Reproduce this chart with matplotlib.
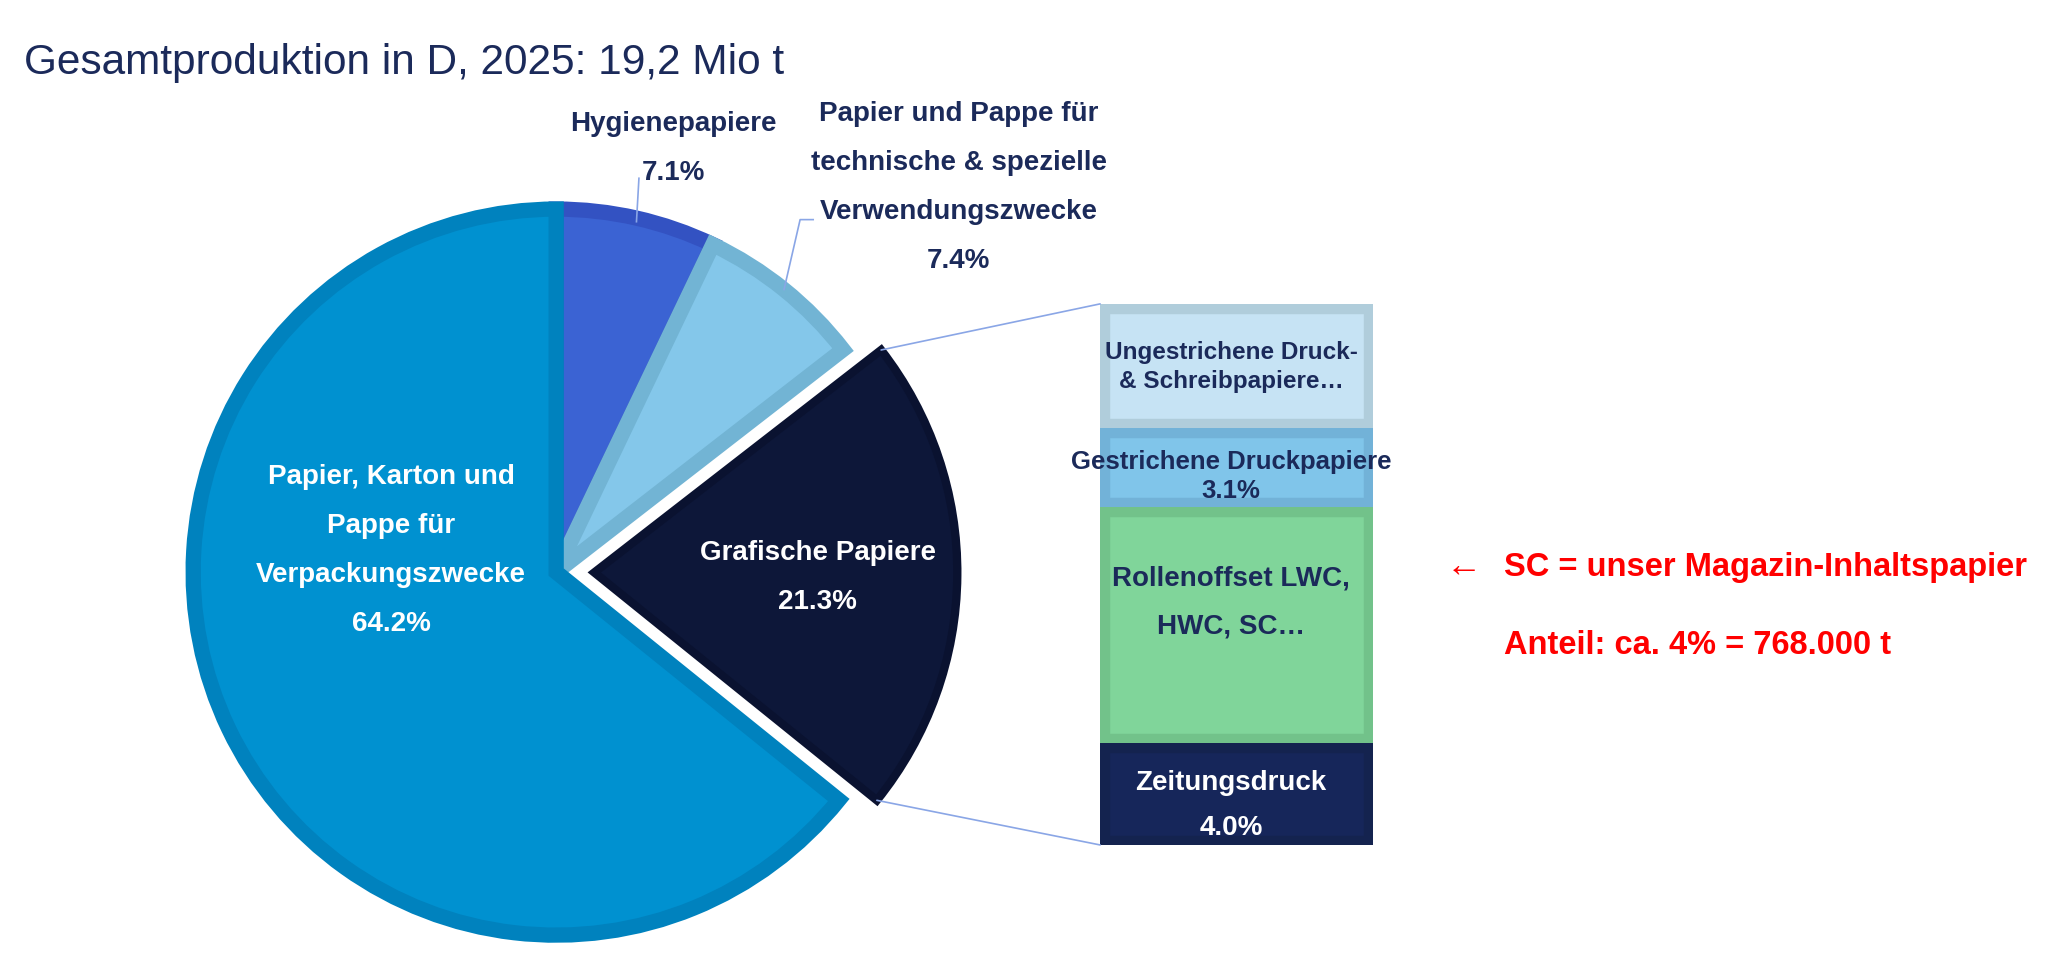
import numpy as np
import matplotlib.pyplot as plt
from matplotlib.patches import ConnectionPatch

plt.rcParams['font.family'] = ['Liberation Sans', 'DejaVu Sans']

NAVY = "#1B2A5A"
LINE = "#8AA6E6"

# pie data (clockwise from top)
pie_labels = ["Hygienepapiere",
              "Papier und Pappe für\ntechnische & spezielle\nVerwendungszwecke",
              "Grafische Papiere",
              "Papier, Karton und\nPappe für\nVerpackungszwecke"]
pie_values = [7.1, 7.4, 21.3, 64.2]
pie_colors = ["#3B63D3", "#84C7EA", "#0D1739", "#0091D0"]
pie_edges = ["#3352C2", "#72B4D4", "#0A1230", "#0082BE"]

# bar data (bottom to top), split of "Grafische Papiere"
bar_labels = ["Zeitungsdruck",
              "Rollenoffset LWC,\nHWC, SC…",
              "Gestrichene Druckpapiere",
              "Ungestrichene Druck-\n& Schreibpapiere…"]
bar_values = [4.0, 9.3, 3.1, 4.9]
bar_pct_shown = [True, False, True, False]
bar_colors = ["#16265A", "#80D59A", "#80C5EA", "#C6E3F4"]
bar_edges = ["#14234F", "#72C28A", "#72B2D8", "#B0CDDB"]
bar_text_colors = ["white", NAVY, NAVY, NAVY]

fig = plt.figure(figsize=(20.54, 9.58), dpi=100)

# main axes: pie with radius 1, centred where the reference has it
ax = fig.add_axes([0, 0, 1, 1])
wedges, _ = ax.pie(pie_values, explode=[0, 0, 0.105, 0], startangle=90,
                   counterclock=False, colors=pie_colors, radius=1)
for w, ec in zip(wedges, pie_edges):
    w.set_edgecolor(ec)
    w.set_linewidth(11)
    w.set_clip_path(w)
wedges[2].set_linewidth(6)
ax.set_xlim(-1.532, 4.126)
ax.set_ylim(-1.063, 1.576)
ax.set_aspect('equal')
ax.axis('off')


def edge_point(w, ang):
    cx, cy = w.center
    return cx + w.r * np.cos(np.radians(ang)), cy + w.r * np.sin(np.radians(ang))


lbl_kw = dict(fontsize=20, fontweight='bold', ha='center', va='center', linespacing=2.15)

# labels inside the pie
ax.text(-0.455, 0.06, pie_labels[3] + f"\n{pie_values[3]:.1f}%", color='white', **lbl_kw)
ax.text(0.72, -0.015, pie_labels[2] + f"\n{pie_values[2]:.1f}%", color='white', **lbl_kw)

# outside labels with leader lines
ax.text(0.322, 1.166, pie_labels[0] + f"\n{pie_values[0]:.1f}%", color=NAVY, **lbl_kw)
w = wedges[0]
px, py = edge_point(w, (w.theta1 + w.theta2) / 2)
ax.plot([0.228, px], [1.085, py - 0.01], color=LINE, lw=1.2)

ax.text(1.109, 1.06, pie_labels[1] + f"\n{pie_values[1]:.1f}%", color=NAVY, **lbl_kw)
w = wedges[1]
px, py = edge_point(w, (w.theta1 + w.theta2) / 2)
ax.plot([0.708, 0.672, px], [0.971, 0.971, py], color=LINE, lw=1.2)

# stacked bar of the exploded slice
bx = fig.add_axes([0.5356, 0.118, 0.1329, 0.5648])
bx.axis('off')
bottoms = np.concatenate([[0], np.cumsum(bar_values)[:-1]])
bars = bx.bar(0, bar_values, bottom=bottoms, width=1, color=bar_colors)
for b, ec in zip(bars, bar_edges):
    b.set_edgecolor(ec)
    b.set_linewidth(14)
    b.set_clip_path(b)
bx.set_xlim(-0.5, 0.5)
bx.set_ylim(0, sum(bar_values))

bar_text_dy = [-0.45, 0.9, -0.35, -0.05]
bar_text_ls = [1.98, 2.13, 1.28, 1.34]
bar_text_fs = [20, 20, 18.5, 17.5]
for i, lab in enumerate(bar_labels):
    txt = lab + (f"\n{bar_values[i]:.1f}%" if bar_pct_shown[i] else "")
    bx.text(-0.02, bottoms[i] + bar_values[i] / 2 + bar_text_dy[i], txt,
            color=bar_text_colors[i], fontsize=bar_text_fs[i], fontweight='bold',
            ha='center', va='center', linespacing=bar_text_ls[i], clip_on=False)

# connector lines from the exploded slice to the bar
g = wedges[2]
top = edge_point(g, g.theta2)
bot = edge_point(g, g.theta1)
for pt, corner in [(top, (0, 1)), (bot, (0, 0))]:
    con = ConnectionPatch(xyA=corner, coordsA=bx.transAxes, xyB=pt, coordsB=ax.transData,
                          color=LINE, lw=1.2)
    fig.add_artist(con)

# title and notes
fig.text(0.0115, 0.934, "Gesamtproduktion in D, 2025: 19,2 Mio t", fontsize=30.5,
         color=NAVY, ha='left', va='center')
fig.text(0.704, 0.408, "←", fontsize=26, color='red', ha='left', va='center')
fig.text(0.732, 0.408, "SC = unser Magazin-Inhaltspapier", fontsize=23.5,
         fontweight='bold', color='red', ha='left', va='center')
fig.text(0.732, 0.326, "Anteil: ca. 4% = 768.000 t", fontsize=23.5,
         fontweight='bold', color='red', ha='left', va='center')

fig.savefig("out.png", dpi=100)
